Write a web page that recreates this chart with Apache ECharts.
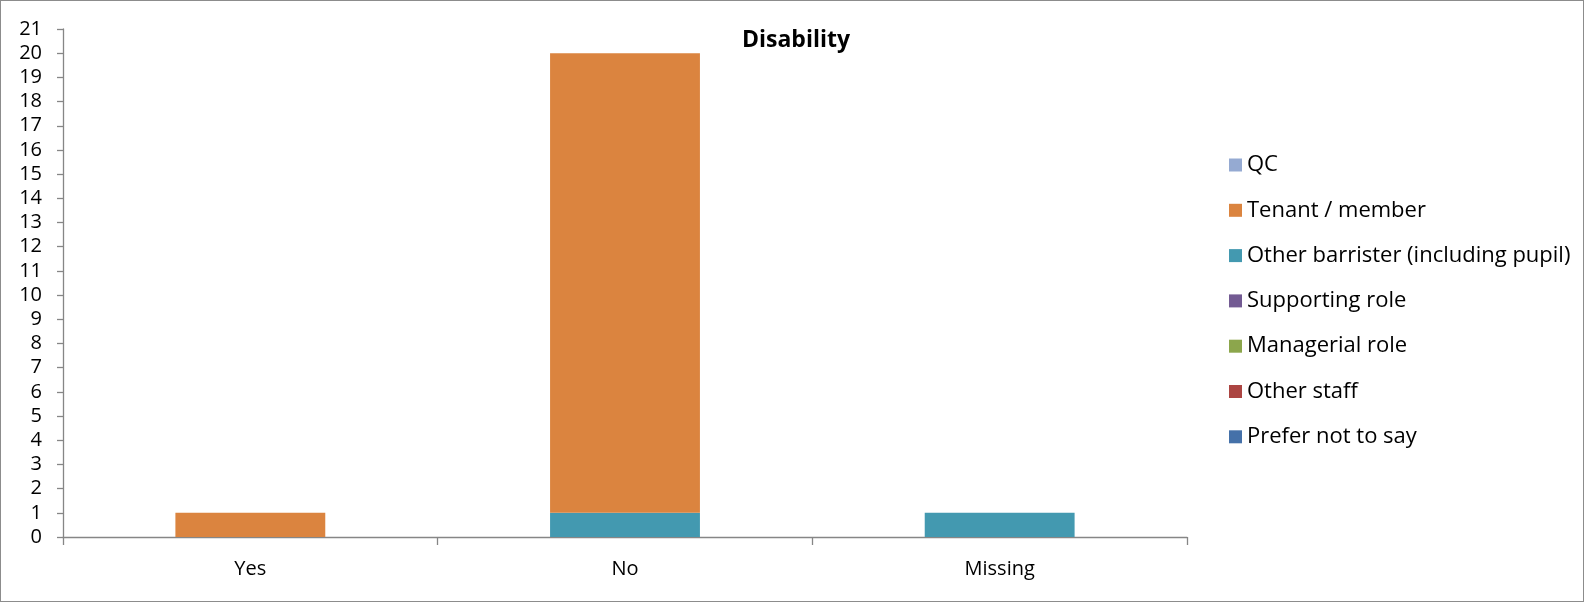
<!DOCTYPE html>
<html><head><meta charset="utf-8">
<script src="https://cdn.jsdelivr.net/npm/echarts@6/dist/echarts.min.js"></script>
<style>html,body{margin:0;padding:0;background:#fff}#c{width:1584px;height:602px;box-sizing:border-box;border:1.5px solid #8c8c8c}</style>
</head><body><div id="c"></div>
<script>
const categories = ['Yes', 'No', 'Missing'];
const legendOrder = ['QC', 'Tenant / member', 'Other barrister (including pupil)', 'Supporting role', 'Managerial role', 'Other staff', 'Prefer not to say'];
const qc = [0, 0, 0];
const tenant = [1, 19, 0];
const otherBarrister = [0, 1, 1];
const supporting = [0, 0, 0];
const managerial = [0, 0, 0];
const otherStaff = [0, 0, 0];
const preferNot = [0, 0, 0];
const yTicks = {min: 0, max: 21, interval: 1};

const colors = {
  'QC': '#95AAD2',
  'Tenant / member': '#DB843F',
  'Other barrister (including pupil)': '#4399B0',
  'Supporting role': '#735B93',
  'Managerial role': '#8CA64C',
  'Other staff': '#AC4542',
  'Prefer not to say': '#4571A9'
};
// stacking order: bottom first
const stackSeries = [
  ['Prefer not to say', preferNot],
  ['Other staff', otherStaff],
  ['Managerial role', managerial],
  ['Supporting role', supporting],
  ['Other barrister (including pupil)', otherBarrister],
  ['Tenant / member', tenant],
  ['QC', qc]
];
const font = '"Open Sans", Lato, sans-serif';
const chart = echarts.init(document.getElementById('c'), null, {renderer: 'canvas'});
chart.setOption({
  animation: false,
  title: {text: 'Disability', left: 790, top: 23, textAlign: 'center',
    textStyle: {fontFamily: font, fontWeight: 'bold', fontSize: 23, color: '#000'}},
  grid: {left: 62, right: 396, top: 28, bottom: 64},
  legend: {
    orient: 'vertical', left: 1223, top: 148, itemGap: 23.3,
    itemWidth: 13, itemHeight: 13, icon: 'rect',
    data: legendOrder,
    textStyle: {fontFamily: font, fontSize: 22, lineHeight: 22, color: '#000'}
  },
  xAxis: {
    type: 'category', data: categories,
    axisLine: {lineStyle: {color: '#868686', width: 1.3}},
    axisTick: {show: true, length: 8, alignWithLabel: false, lineStyle: {color: '#868686', width: 1.3}},
    axisLabel: {fontFamily: font, fontSize: 20, color: '#000', margin: 22}
  },
  yAxis: {
    type: 'value', min: yTicks.min, max: yTicks.max, interval: yTicks.interval,
    splitLine: {show: false},
    axisLine: {show: true, lineStyle: {color: '#868686', width: 1.3}},
    axisTick: {show: true, length: 6, lineStyle: {color: '#868686', width: 1.3}},
    axisLabel: {fontFamily: font, fontSize: 20, color: '#000', margin: 21}
  },
  series: stackSeries.map(([name, data]) => ({
    name, type: 'bar', stack: 'total', data,
    barWidth: '40%',
    itemStyle: {color: colors[name]}
  }))
});
</script></body></html>
